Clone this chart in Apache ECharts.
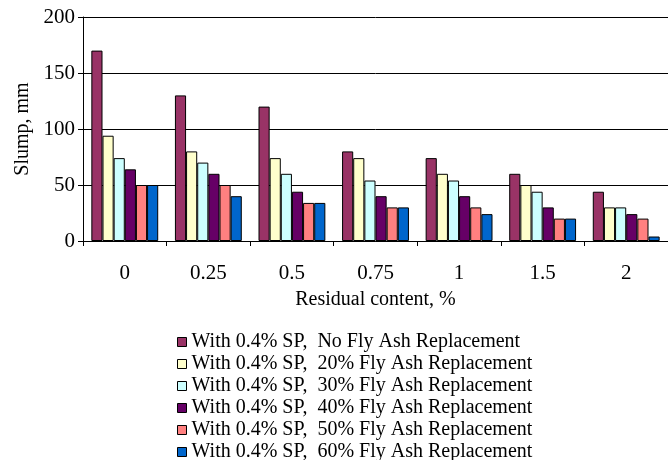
<!DOCTYPE html>
<html>
<head>
<meta charset="utf-8">
<script src="https://cdn.jsdelivr.net/npm/echarts@6/dist/echarts.min.js"></script>
<style>
  html, body { margin: 0; padding: 0; background: #fff; }
  #chart { width: 668px; height: 460px; }
</style>
</head>
<body>
<div id="chart"></div>
<script>
// Residual content levels (%)
const categories = ['0', '0.25', '0.5', '0.75', '1', '1.5', '2'];

// Slump (mm) for each mix
const seriesNames = [
  'With 0.4% SP,  No Fly Ash Replacement',
  'With 0.4% SP,  20% Fly Ash Replacement',
  'With 0.4% SP,  30% Fly Ash Replacement',
  'With 0.4% SP,  40% Fly Ash Replacement',
  'With 0.4% SP,  50% Fly Ash Replacement',
  'With 0.4% SP,  60% Fly Ash Replacement'
];
const noFlyAsh = [170, 130, 120, 80, 74, 60, 44];
const flyAsh20 = [94, 80, 74, 74, 60, 50, 30];
const flyAsh30 = [74, 70, 60, 54, 54, 44, 30];
const flyAsh40 = [64, 60, 44, 40, 40, 30, 24];
const flyAsh50 = [50, 50, 34, 30, 30, 20, 20];
const flyAsh60 = [50, 40, 34, 30, 24, 20, 4];

const yTicks = [0, 50, 100, 150, 200];

const colors = ['#993366', '#FFFFCC', '#CCFFFF', '#660066', '#FF8080', '#0066CC'];
const values = [noFlyAsh, flyAsh20, flyAsh30, flyAsh40, flyAsh50, flyAsh60];

const font = 'Liberation Serif';
const chart = echarts.init(document.getElementById('chart'));

chart.setOption({
  animation: false,
  color: colors,
  grid: { left: 83, right: 0, top: 17, bottom: 219 },
  legend: {
    orient: 'vertical',
    left: 172,
    top: 327,
    height: 140,
    itemWidth: 9,
    itemHeight: 9,
    itemGap: 2,
    icon: 'rect',
    textStyle: { fontFamily: font, fontSize: 20, color: '#000' },
    itemStyle: { borderColor: '#000', borderWidth: 1 },
    data: seriesNames
  },
  xAxis: {
    type: 'category',
    data: categories,
    name: 'Residual content, %',
    nameLocation: 'middle',
    nameGap: 49,
    nameTextStyle: { fontFamily: font, fontSize: 20, color: '#000' },
    axisLine: { lineStyle: { color: '#000', width: 1 } },
    axisTick: { show: true, length: 5, lineStyle: { color: '#000' } },
    axisLabel: { fontFamily: font, fontSize: 21, color: '#000', margin: 22 }
  },
  yAxis: {
    type: 'value',
    min: yTicks[0],
    max: yTicks[yTicks.length - 1],
    interval: 50,
    name: 'Slump, mm',
    nameLocation: 'middle',
    nameGap: 49,
    nameTextStyle: { fontFamily: font, fontSize: 20, color: '#000' },
    axisLine: { show: true, lineStyle: { color: '#000', width: 1 } },
    axisTick: { show: true, length: 5, lineStyle: { color: '#000' } },
    axisLabel: { fontFamily: font, fontSize: 21, color: '#000', margin: 8 },
    splitLine: { show: true, lineStyle: { color: '#000', width: 1 } }
  },
  series: seriesNames.map((name, i) => ({
    name: name,
    type: 'bar',
    data: values[i],
    barGap: '0%',
    barCategoryGap: '20%',
    itemStyle: { color: colors[i], borderColor: '#000', borderWidth: 1 }
  }))
});
</script>
</body>
</html>
